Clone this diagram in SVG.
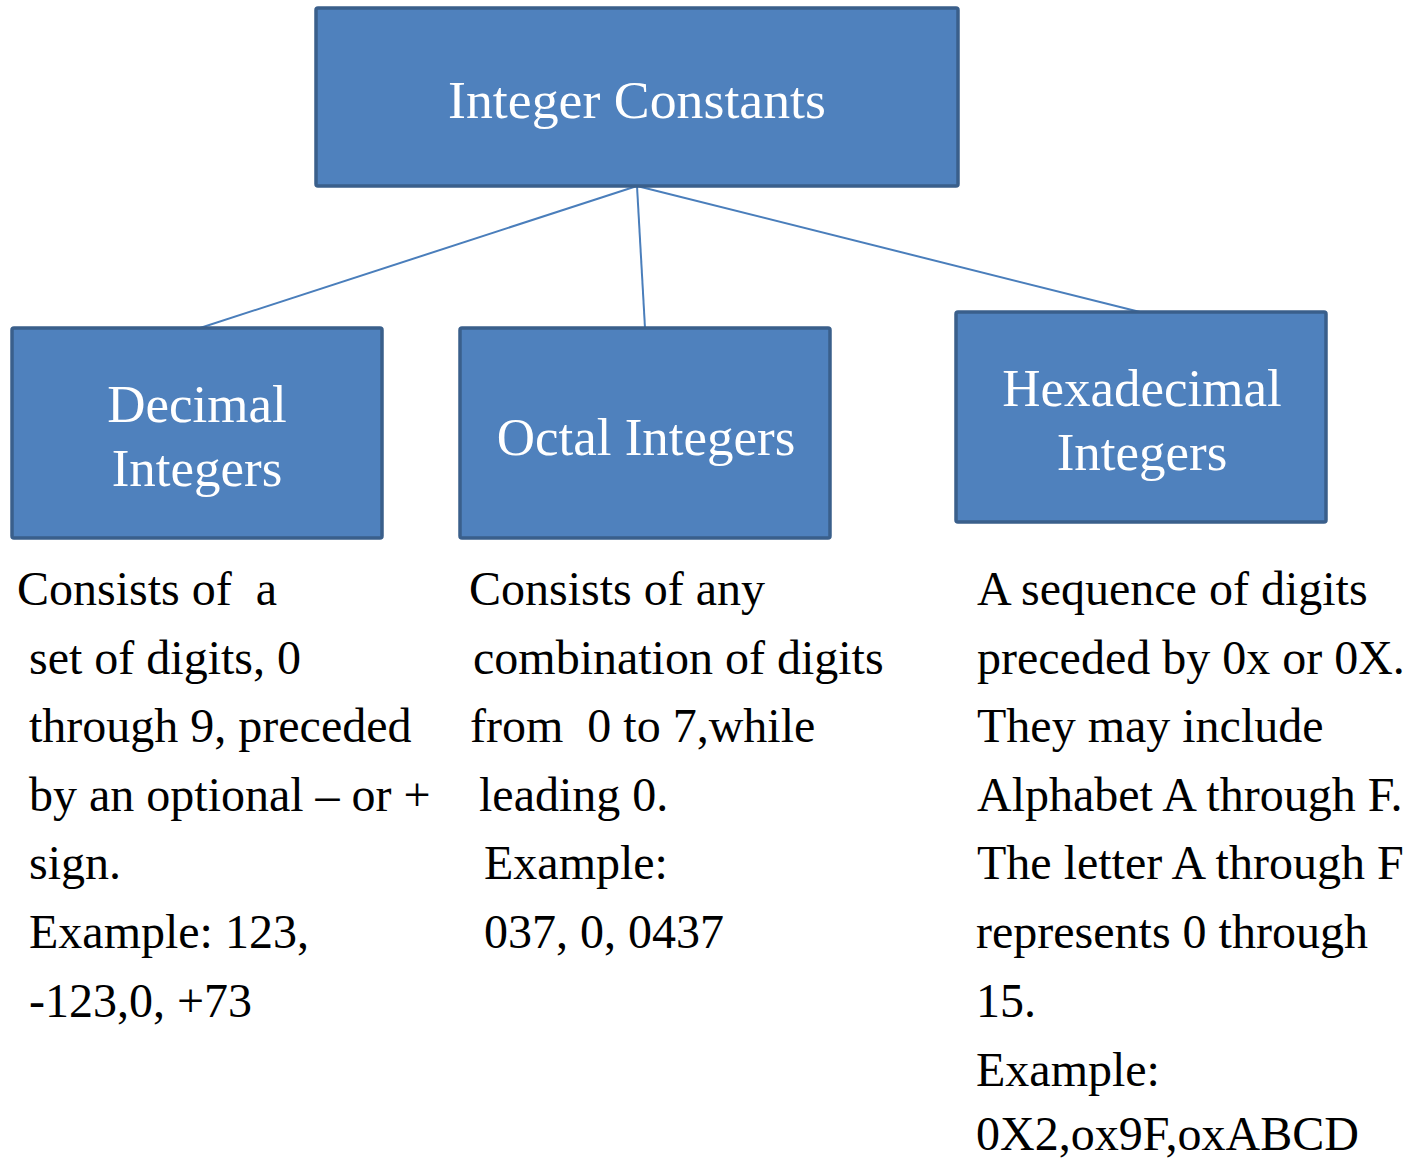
<svg xmlns="http://www.w3.org/2000/svg" width="1408" height="1160" viewBox="0 0 1408 1160">
<style>
.box{fill:#4F81BD;stroke:#3A5F8B;stroke-width:3.5}
.bt{font-family:"Liberation Serif","Times New Roman",serif;font-size:53px;fill:#FFFFFF;text-anchor:middle}
.tx{font-family:"Liberation Serif","Times New Roman",serif;font-size:48px;fill:#000000;white-space:pre}
.cn{stroke:#4A7EBB;stroke-width:2;fill:none}
</style>
<rect width="1408" height="1160" fill="#FFFFFF"/>
<g id="connectors">
<line class="cn" x1="637" y1="186" x2="200" y2="328"/>
<line class="cn" x1="637" y1="186" x2="645" y2="328"/>
<line class="cn" x1="637" y1="186" x2="1140" y2="312"/>
</g>
<g id="node-integer-constants">
<rect class="box" x="316" y="8" width="642" height="178" rx="2"/>
<text class="bt" x="637" y="118" textLength="378" lengthAdjust="spacingAndGlyphs">Integer Constants</text>
</g>
<g id="node-decimal">
<rect class="box" x="12" y="328" width="370" height="210" rx="2"/>
<text class="bt" x="197" y="422">Decimal</text>
<text class="bt" x="197" y="486">Integers</text>
</g>
<g id="node-octal">
<rect class="box" x="460" y="328" width="370" height="210" rx="2"/>
<text class="bt" x="646" y="455">Octal Integers</text>
</g>
<g id="node-hexadecimal">
<rect class="box" x="956" y="312" width="370" height="210" rx="2"/>
<text class="bt" x="1142" y="406">Hexadecimal</text>
<text class="bt" x="1142" y="470">Integers</text>
</g>
<g id="text-decimal">
<text class="tx" x="17" y="605">Consists of  a</text>
<text class="tx" x="29" y="674">set of digits, 0</text>
<text class="tx" x="29" y="742">through 9, preceded</text>
<text class="tx" x="29" y="811">by an optional – or +</text>
<text class="tx" x="29" y="879">sign.</text>
<text class="tx" x="29" y="948">Example: 123,</text>
<text class="tx" x="29" y="1017">-123,0, +73</text>
</g>
<g id="text-octal">
<text class="tx" x="469" y="605">Consists of any</text>
<text class="tx" x="473" y="674">combination of digits</text>
<text class="tx" x="470" y="742">from  0 to 7,while</text>
<text class="tx" x="479" y="811">leading 0.</text>
<text class="tx" x="484" y="879">Example:</text>
<text class="tx" x="484" y="948">037, 0, 0437</text>
</g>
<g id="text-hex">
<text class="tx" x="977" y="605">A sequence of digits</text>
<text class="tx" x="977" y="674">preceded by 0x or 0X.</text>
<text class="tx" x="977" y="742">They may include</text>
<text class="tx" x="977" y="811">Alphabet A through F.</text>
<text class="tx" x="977" y="879">The letter A through F</text>
<text class="tx" x="976" y="948">represents 0 through</text>
<text class="tx" x="976" y="1017">15.</text>
<text class="tx" x="976" y="1086">Example:</text>
<text class="tx" x="976" y="1150">0X2,ox9F,oxABCD</text>
</g>
</svg>
